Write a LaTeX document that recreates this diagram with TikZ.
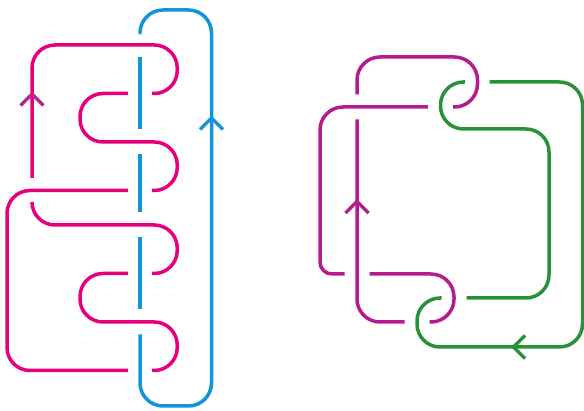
\documentclass[tikz,border=0pt]{standalone}
\usepackage{xcolor}
\definecolor{kpink}{HTML}{E6007E}
\definecolor{kblue}{HTML}{1294D6}
\definecolor{kpurple}{HTML}{B51B8C}
\definecolor{kgreen}{HTML}{27923A}
\definecolor{karrowpink}{HTML}{B8278E}
\tikzset{
  strand/.style={line width=3.5pt, line cap=butt, line join=round, rounded corners=23pt},
  pinkline/.style={strand, draw=kpink},
  blueline/.style={strand, draw=kblue},
  purpleline/.style={strand, draw=kpurple},
  greenline/.style={strand, draw=kgreen},
  chevron/.style={line width=3.5pt, line cap=butt, line join=miter, sharp corners},
}
\begin{document}
\begin{tikzpicture}[x=1pt,y=-1pt]
\useasboundingbox (0,0) rectangle (584,411);
% ---- left knot: pink strand
\draw[pinkline] (32,178) -- (32,45) -- (177.25,45) -- (177.25,93.5) -- (152,93.5);
\draw[pinkline] (128,93.5) -- (80,93.5) -- (80,142) -- (177.25,142) -- (177.25,190.5) -- (152,190.5);
\draw[pinkline] (128,190.5) -- (7,190.5) -- (7,370.5) -- (128,370.5);
\draw[pinkline] (152,370.5) -- (177.25,370.5) -- (177.25,322) -- (80,322) -- (80,273.5) -- (128,273.5);
\draw[pinkline] (152,273.5) -- (177.25,273.5) -- (177.25,225) -- (32,225) -- (32,202);
% ---- left knot: blue strand
\draw[blueline] (140,32.5) -- (140,10) -- (211.5,10) -- (211.5,406) -- (140,406) -- (140,334.5);
\draw[blueline] (140,309.5) -- (140,237.5);
\draw[blueline] (140,212.5) -- (140,154.5);
\draw[blueline] (140,129.5) -- (140,57.5);
% arrows
\draw[chevron, draw=karrowpink] (20.5,105.5) -- (32,94) -- (43.5,105.5);
\draw[chevron, draw=kblue] (200,129.5) -- (211.5,118) -- (223,129.5);
% ---- right link: purple strand
\draw[purpleline] (357,94.5) -- (357,57) -- (477.5,57) -- (477.5,107) -- (453,107);
\draw[purpleline] (428,107) -- (320,107) -- (320,220) [rounded corners=12pt] -- (320,274) -- (344.5,274);
\draw[purpleline] (369.5,274) -- (454,274) -- (454,322) -- (429.5,322);
\draw[purpleline] (404.5,322) -- (357,322) -- (357,119.5);
% ---- right link: green strand
\draw[greenline] (489.5,82) -- (582.5,82) -- (582.5,347) -- (417,347) -- (417,298) -- (441.5,298);
\draw[greenline] (466.5,298) -- (549,298) -- (549,129) -- (440.5,129) -- (440.5,82) -- (465,82);
% arrows
\draw[chevron, draw=kpurple] (345.5,213) -- (357,201.5) -- (368.5,213);
\draw[chevron, draw=kgreen] (525,335.5) -- (513.5,347) -- (525,358.5);
\end{tikzpicture}
\end{document}
